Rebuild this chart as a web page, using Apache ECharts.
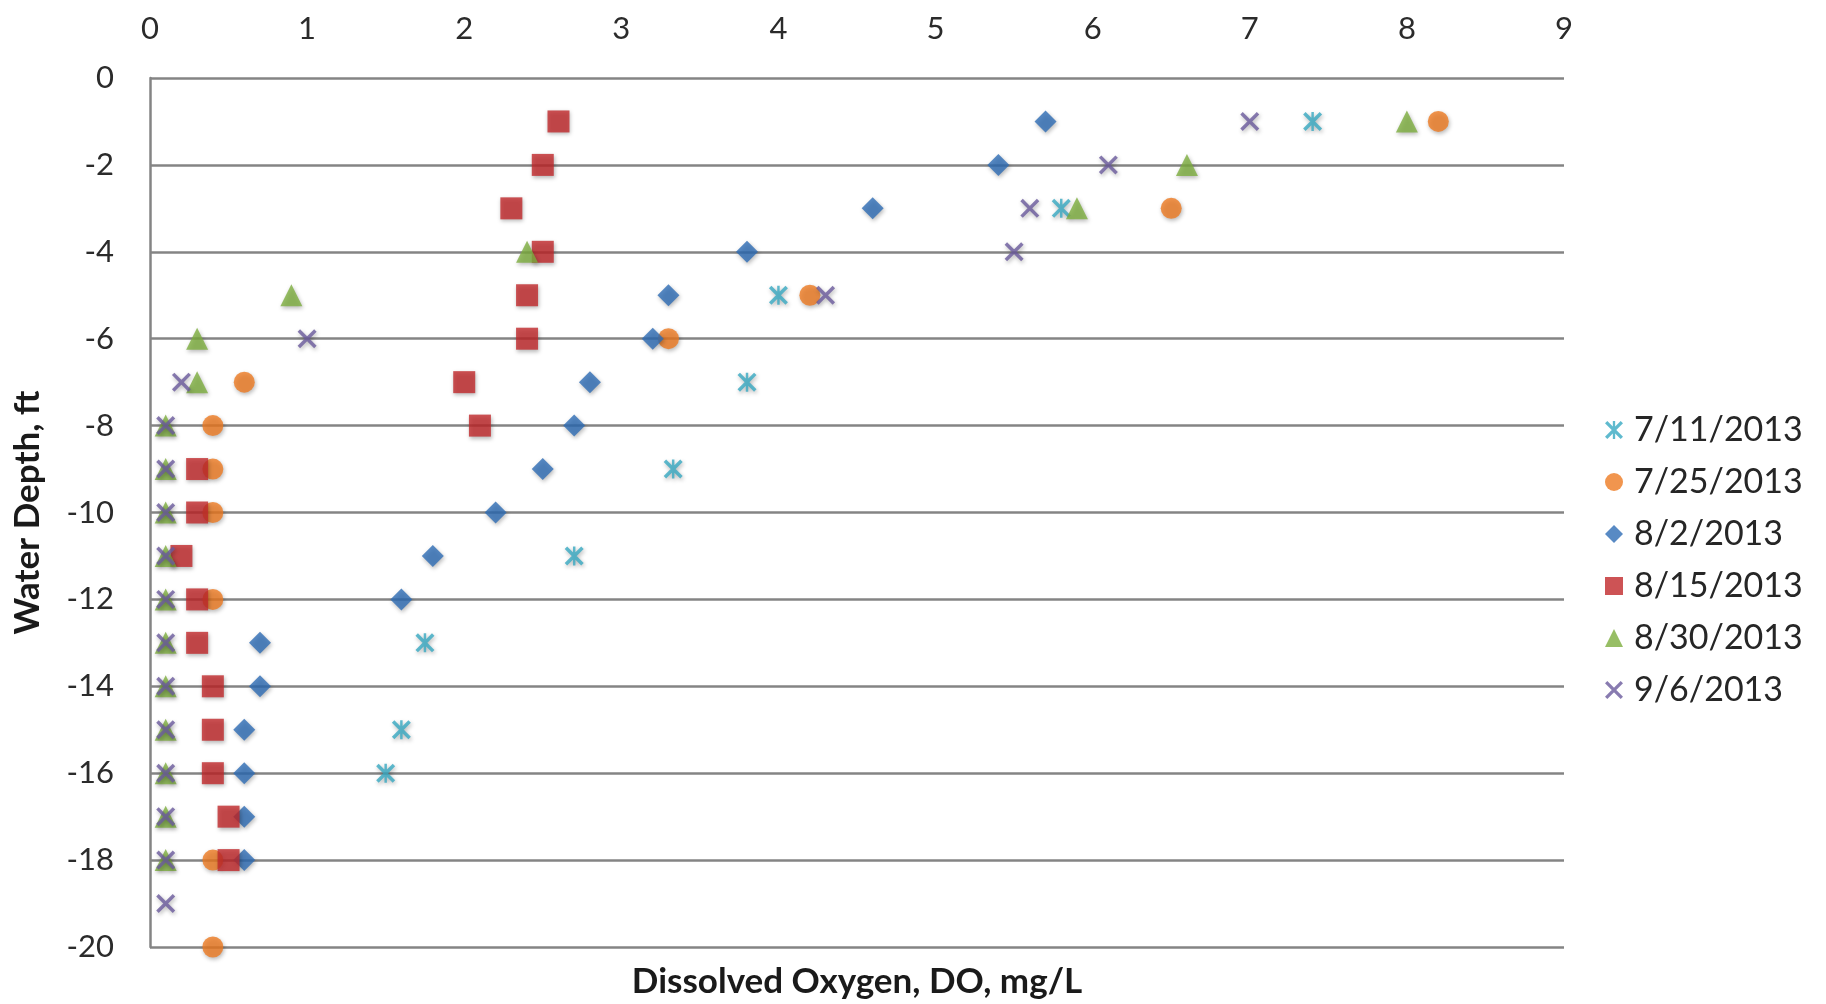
<!DOCTYPE html>
<html>
<head>
<meta charset="utf-8">
<script src="https://cdn.jsdelivr.net/npm/echarts@6/dist/echarts.min.js"></script>
<style>
html,body{margin:0;padding:0;background:#fff;}
#chart{width:1826px;height:1004px;}
</style>
</head>
<body>
<div id="chart"></div>
<script>
// Dissolved oxygen (mg/L) vs water depth (ft)
const seriesNames = ['7/11/2013', '7/25/2013', '8/2/2013', '8/15/2013', '8/30/2013', '9/6/2013'];

const d0711 = [[7.4,-1],[5.8,-3],[4.0,-5],[3.8,-7],[3.33,-9],[2.7,-11],[1.75,-13],[1.6,-15],[1.5,-16]];
const d0725 = [[8.2,-1],[6.5,-3],[4.2,-5],[3.3,-6],[0.6,-7],[0.4,-8],[0.4,-9],[0.4,-10],[0.4,-12],[0.4,-18],[0.4,-20]];
const d0802 = [[5.7,-1],[5.4,-2],[4.6,-3],[3.8,-4],[3.3,-5],[3.2,-6],[2.8,-7],[2.7,-8],[2.5,-9],[2.2,-10],[1.8,-11],[1.6,-12],[0.7,-13],[0.7,-14],[0.6,-15],[0.6,-16],[0.6,-17],[0.6,-18]];
const d0815 = [[2.6,-1],[2.5,-2],[2.3,-3],[2.5,-4],[2.4,-5],[2.4,-6],[2.0,-7],[2.1,-8],[0.3,-9],[0.3,-10],[0.2,-11],[0.3,-12],[0.3,-13],[0.4,-14],[0.4,-15],[0.4,-16],[0.5,-17],[0.5,-18]];
const d0830 = [[8.0,-1],[6.6,-2],[5.9,-3],[2.4,-4],[0.9,-5],[0.3,-6],[0.3,-7],[0.1,-8],[0.1,-9],[0.1,-10],[0.1,-11],[0.1,-12],[0.1,-13],[0.1,-14],[0.1,-15],[0.1,-16],[0.1,-17],[0.1,-18]];
const d0906 = [[7.0,-1],[6.1,-2],[5.6,-3],[5.5,-4],[4.3,-5],[1.0,-6],[0.2,-7],[0.1,-8],[0.1,-9],[0.1,-10],[0.1,-11],[0.1,-12],[0.1,-13],[0.1,-14],[0.1,-15],[0.1,-16],[0.1,-17],[0.1,-18],[0.1,-19]];

const xTicks = { min: 0, max: 9, interval: 1 };
const yTicks = { min: -20, max: 0, interval: 2 };

const allData = [d0711, d0725, d0802, d0815, d0830, d0906];
const colors = ['#37A9C2', '#EE7A22', '#2E6DB5', '#C0282B', '#7DAE3E', '#6A5A9C'];
const XPATH = 'path://M0,1.3L1.3,0L10,8.7L8.7,10Z M8.7,0L10,1.3L1.3,10L0,8.7Z';
const STARPATH = 'path://M0,1.3L1.3,0L10,8.7L8.7,10Z M8.7,0L10,1.3L1.3,10L0,8.7Z M4.35,0L5.65,0L5.65,10L4.35,10Z';
const symbols = [STARPATH, 'circle', 'diamond', 'rect', 'triangle', XPATH];
const sizes = [19, 21, 22, 22, 22, 19];

const FONT = 'Lato, "Open Sans", sans-serif';

const chart = echarts.init(document.getElementById('chart'));
chart.setOption({
  animation: false,
  backgroundColor: '#ffffff',
  grid: { left: 150, right: 262, top: 78, bottom: 54 },
  legend: {
    orient: 'vertical',
    left: 1600,
    top: 407,
    itemGap: 16,
    itemWidth: 18,
    itemHeight: 18,
    data: seriesNames.map((n, i) => ({ name: n, icon: symbols[i] })),
    textStyle: { fontFamily: FONT, fontSize: 34, color: '#262626', lineHeight: 36, padding: [0, 0, 0, 6] }
  },
  xAxis: [{
    type: 'value',
    position: 'top',
    min: xTicks.min, max: xTicks.max, interval: xTicks.interval,
    axisLine: { show: false },
    axisTick: { show: false },
    splitLine: { show: false },
    axisLabel: { fontFamily: FONT, fontSize: 31, color: '#2b2b2b', margin: 34 }
  }, {
    type: 'value',
    position: 'bottom',
    min: xTicks.min, max: xTicks.max, interval: xTicks.interval,
    axisLine: { show: false },
    axisTick: { show: false },
    splitLine: { show: false },
    axisLabel: { show: false },
    name: 'Dissolved Oxygen, DO, mg/L',
    nameLocation: 'middle',
    nameGap: 17,
    nameTextStyle: { fontFamily: FONT, fontSize: 35, fontWeight: 'bold', color: '#1a1a1a' }
  }],
  yAxis: {
    type: 'value',
    min: yTicks.min, max: yTicks.max, interval: yTicks.interval,
    axisLine: { show: true, lineStyle: { color: '#848484', width: 2.5 } },
    axisTick: { show: false },
    splitLine: { show: true, lineStyle: { color: '#848484', width: 2.5 } },
    axisLabel: { fontFamily: FONT, fontSize: 31, color: '#2b2b2b', margin: 36 },
    name: 'Water Depth, ft',
    nameLocation: 'middle',
    nameGap: 105,
    nameTextStyle: { fontFamily: FONT, fontSize: 35, fontWeight: 'bold', color: '#1a1a1a' }
  },
  series: allData.map((d, i) => ({
    name: seriesNames[i],
    type: 'scatter',
    xAxisIndex: 0,
    data: d,
    symbol: symbols[i],
    symbolSize: sizes[i],
    itemStyle: {
      color: colors[i],
      shadowBlur: 4,
      shadowColor: 'rgba(0,0,0,0.35)',
      shadowOffsetX: 1,
      shadowOffsetY: 2
    }
  }))
});
</script>
</body>
</html>
